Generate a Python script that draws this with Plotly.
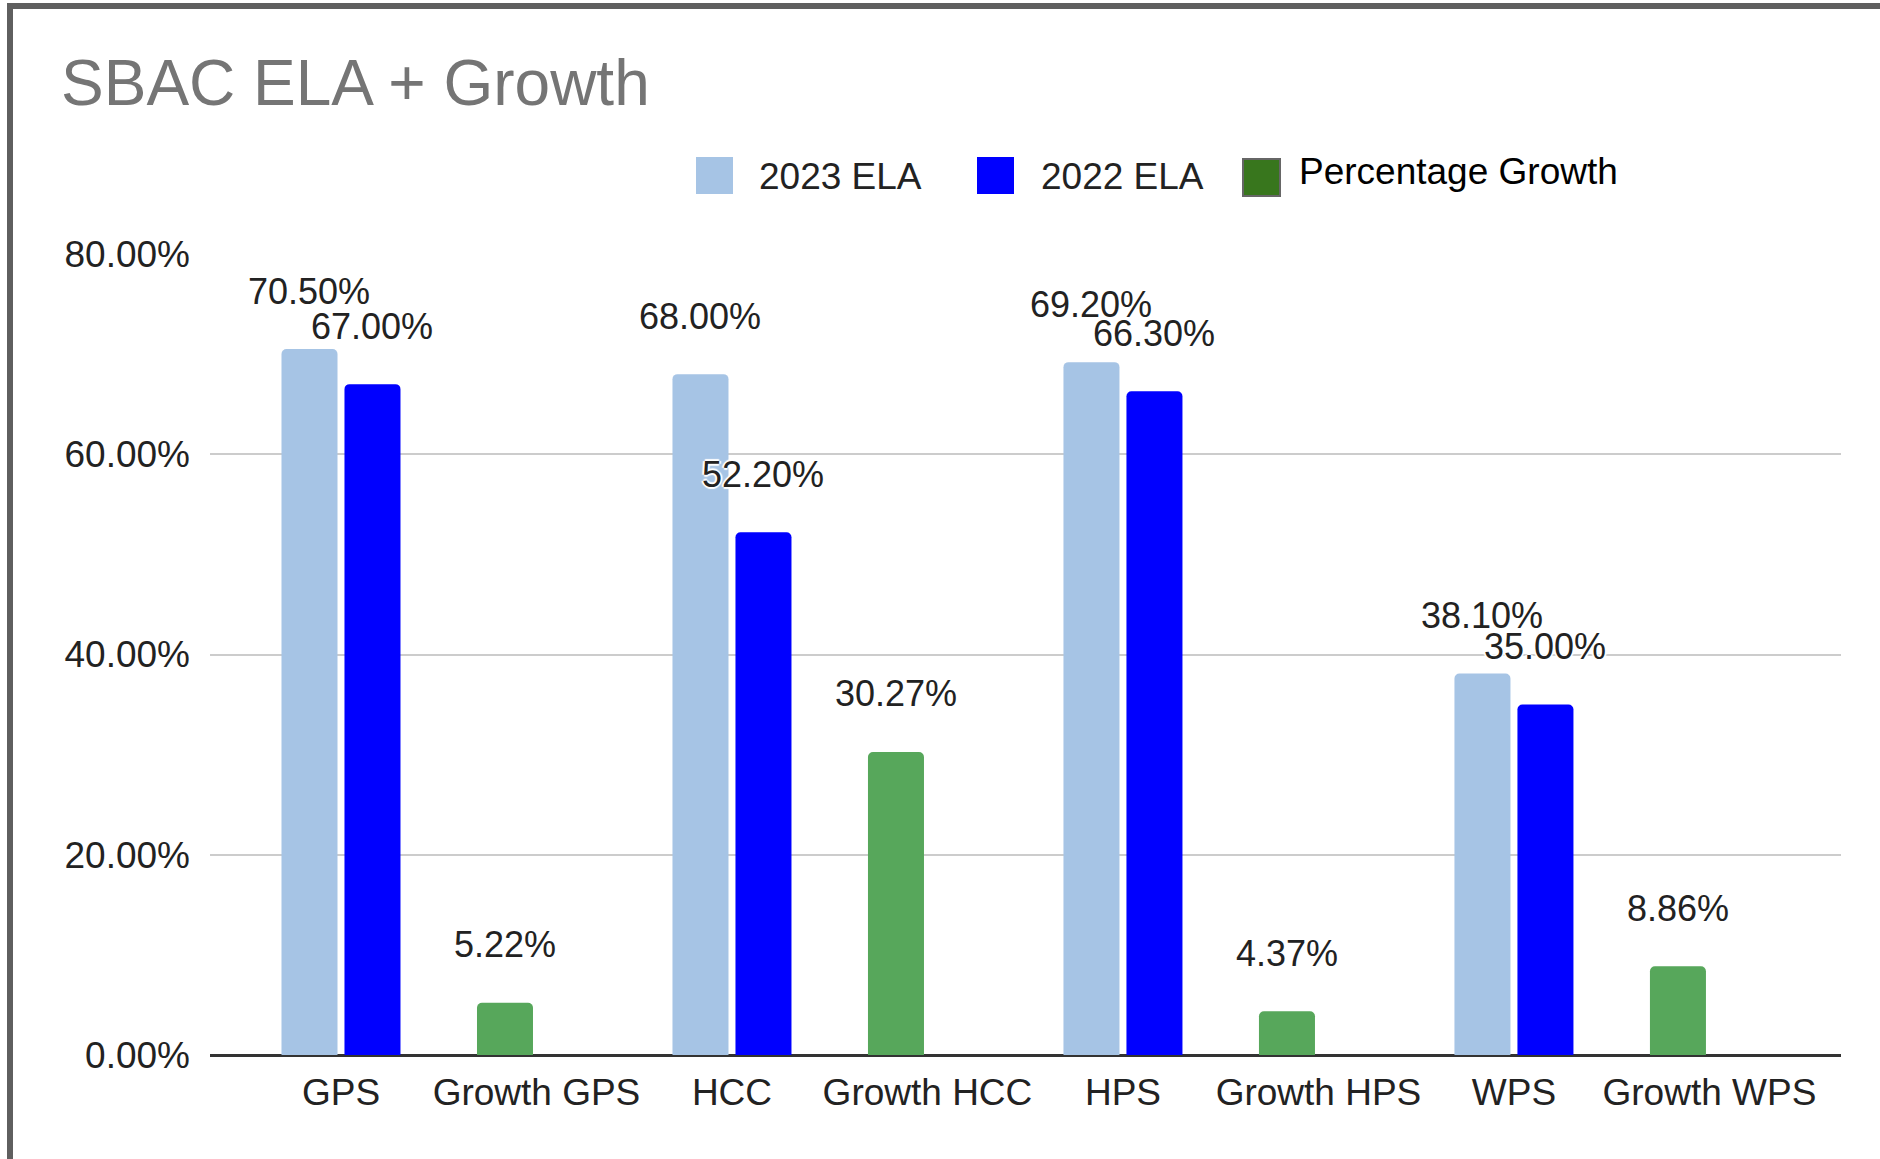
import plotly.graph_objects as go

# ---------------- data ----------------
categories = ["GPS", "Growth GPS", "HCC", "Growth HCC", "HPS", "Growth HPS", "WPS", "Growth WPS"]
ela_2023 = [0.705, None, 0.680, None, 0.692, None, 0.381, None]
ela_2022 = [0.670, None, 0.522, None, 0.663, None, 0.350, None]
growth = [None, 0.0522, None, 0.3027, None, 0.0437, None, 0.0886]
series_names = ["2023 ELA", "2022 ELA", "Percentage Growth"]
y_ticks = [0, 0.2, 0.4, 0.6, 0.8]

# ---------------- geometry / style ----------------
W, H = 1880, 1159
ML, MR, MT, MB = 210, 39, 254, 104
PW, PH = W - ML - MR, H - MT - MB
XR = [-0.670, 7.673]
px_per_cat = PW / (XR[1] - XR[0])

BAR_W = 0.2865
OFF_A = -0.3043
OFF_B = 0.0179

C_2023 = "#a6c4e5"
C_2022 = "#0000ff"
C_GROW = "#57a75b"
FONT = "Liberation Sans, Arial, sans-serif"
TXT = "#222222"


def px(xp):
    return (xp - ML) / PW


def py(yp):
    return (MT + PH - yp) / PH


fig = go.Figure()
for name, vals, color, off in [
    (series_names[0], ela_2023, C_2023, OFF_A),
    (series_names[1], ela_2022, C_2022, OFF_B),
    (series_names[2], growth, C_GROW, OFF_A),
]:
    fig.add_trace(go.Bar(
        x=categories, y=vals, name=name, marker_color=color,
        marker_line_width=0, marker_cornerradius=5,
        width=BAR_W, offset=off, showlegend=False,
        hovertemplate="%{x}: %{y:.2%}<extra>" + name + "</extra>",
    ))

# data labels
annotations = []
for vals, off in [(ela_2023, OFF_A), (ela_2022, OFF_B), (growth, OFF_A)]:
    for cat, v in zip(categories, vals):
        if v is None:
            continue
        annotations.append(dict(
            x=cat, y=v, xref="x", yref="y", text=f"{v*100:.2f}%",
            showarrow=False, xanchor="center", yanchor="middle",
            xshift=(off + BAR_W / 2) * px_per_cat, yshift=58,
            font=dict(family=FONT, size=36, color=TXT,
                      shadow="2px 0 1px white, -2px 0 1px white, 0 2px 1px white, 0 -2px 1px white"),
        ))

# manual legend
shapes = []
legend_items = [
    (series_names[0], C_2023, None, 696, 157, 757, 176, TXT),
    (series_names[1], C_2022, None, 977, 157, 1039, 176, TXT),
    (series_names[2], "#38761d", "#666666", 1243, 159, 1297, 172, "#000000"),
]
for name, fill, border, x0, y0, tx, ty, tcol in legend_items:
    shapes.append(dict(
        type="rect", xref="paper", yref="paper",
        x0=px(x0), x1=px(x0 + 37), y0=py(y0 + 37), y1=py(y0),
        fillcolor=fill,
        line=dict(color=border if border else fill, width=2 if border else 0),
    ))
    annotations.append(dict(
        x=px(tx), y=py(ty), xref="paper", yref="paper", text=name,
        showarrow=False, xanchor="left", yanchor="middle",
        font=dict(family=FONT, size=37, color=tcol),
    ))

# outer frame (top and left visible)
shapes.append(dict(type="line", xref="paper", yref="paper",
                   x0=px(7), x1=px(1880), y0=py(6), y1=py(6),
                   line=dict(color="#5f5f5f", width=6)))
shapes.append(dict(type="line", xref="paper", yref="paper",
                   x0=px(10), x1=px(10), y0=py(3), y1=py(1159),
                   line=dict(color="#5f5f5f", width=6)))

fig.update_layout(
    width=W, height=H,
    margin=dict(l=ML, r=MR, t=MT, b=MB, pad=0),
    paper_bgcolor="white", plot_bgcolor="white",
    barmode="overlay",
    title=dict(text="SBAC ELA + Growth", xref="container", yref="container",
               x=61 / W, xanchor="left", y=1 - 83 / H, yanchor="middle",
               font=dict(family=FONT, size=64, color="#757575")),
    xaxis=dict(type="category", range=XR, showgrid=False, showline=False,
               ticks="", tickfont=dict(family=FONT, size=37, color=TXT),
               ticklabelstandoff=12, fixedrange=True),
    yaxis=dict(range=[0, 0.8], tickvals=y_ticks, tickformat=".2%",
               showgrid=True, gridcolor="#cccccc", gridwidth=2,
               zeroline=True, zerolinecolor="#333333", zerolinewidth=3,
               showline=False, ticks="",
               tickfont=dict(family=FONT, size=37, color=TXT),
               ticklabelstandoff=19, fixedrange=True),
    annotations=annotations,
    shapes=shapes,
    showlegend=False,
)

fig.write_html("out.html")
